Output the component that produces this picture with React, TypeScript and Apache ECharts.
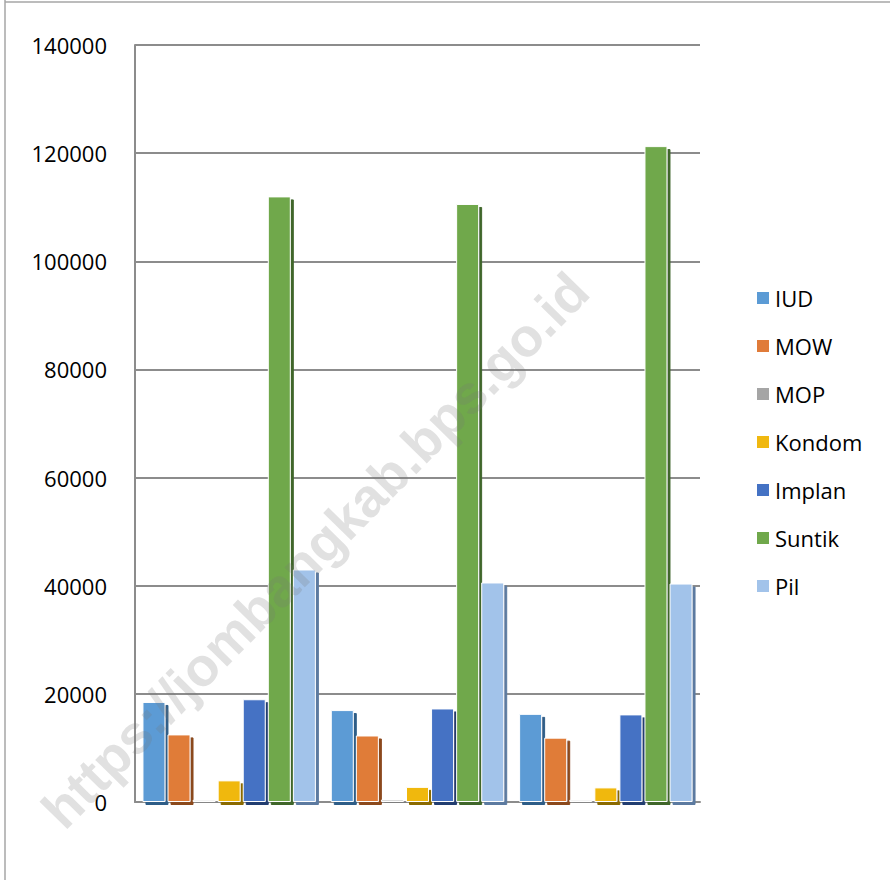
import React, { useEffect, useRef } from "react";
import * as echarts from "echarts";

const categories = ["2016", "2017", "2018"];
const seriesNames = ["IUD", "MOW", "MOP", "Kondom", "Implan", "Suntik", "Pil"];
const iud = [18500, 17000, 16300];
const mow = [12500, 12300, 11900];
const mop = [400, 450, 400];
const kondom = [4000, 2800, 2700];
const implan = [19000, 17300, 16200];
const suntik = [112000, 110600, 121300];
const pil = [43000, 40600, 40400];
const yTicks = { min: 0, max: 140000, interval: 20000 };

const colors = ["#5b9bd5", "#e07b39", "#a5a5a5", "#f0b810", "#4472c4", "#70a84b", "#a2c3ea"];
const shadowColors = ["#2f5d87", "#8b4a1f", "#666666", "#8a6a05", "#223e70", "#3f6629", "#5c7aa0"];

export default function App() {
  const ref = useRef<HTMLDivElement>(null);
  useEffect(() => {
    document.body.style.margin = "0";
    const chart = echarts.init(ref.current!, null, { renderer: "svg" });
    const data = [iud, mow, mop, kondom, implan, suntik, pil];
    chart.setOption({
      animation: false,
      backgroundColor: "#ffffff",
      textStyle: { fontFamily: "Open Sans" },
      grid: { left: 135, right: 190, top: 45, bottom: 78, containLabel: false },
      legend: {
        orient: "vertical",
        left: 750,
        top: 282,
        itemWidth: 14,
        itemHeight: 14,
        itemGap: 26,
        icon: "rect",
        textStyle: { fontSize: 22, color: "#000", lineHeight: 22, fontFamily: "Open Sans" },
        data: seriesNames,
      },
      xAxis: {
        type: "category",
        data: categories,
        axisLine: { show: true, lineStyle: { color: "#8c8c8c", width: 2 } },
        axisTick: { show: false },
        axisLabel: { show: false },
      },
      yAxis: {
        type: "value",
        min: yTicks.min,
        max: yTicks.max,
        interval: yTicks.interval,
        axisLine: { show: true, lineStyle: { color: "#8c8c8c", width: 2 } },
        axisTick: { show: false },
        axisLabel: {
          fontSize: 22,
          color: "#000",
          margin: 28,
          fontFamily: "Open Sans",
          formatter: (v: number) => String(v),
        },
        splitLine: { show: true, lineStyle: { color: "#8c8c8c", width: 2 } },
      },
      graphic: [
        {
          type: "text",
          x: 315,
          y: 550,
          rotation: (45.5 * Math.PI) / 180,
          z: 100,
          style: {
            text: "https://jombangkab.bps.go.id",
            fontSize: 54,
            fontWeight: "bold",
            fontFamily: "Liberation Sans",
            fill: "rgba(120,120,120,0.22)",
            textAlign: "center",
            textVerticalAlign: "middle",
          },
        },
        { type: "line", shape: { x1: 5, y1: 0, x2: 5, y2: 880 }, style: { stroke: "#a6a6a6", lineWidth: 1.5 } },
        { type: "line", shape: { x1: 5, y1: 2, x2: 890, y2: 2 }, style: { stroke: "#a6a6a6", lineWidth: 1.5 } },
      ],
      series: seriesNames.map((name, i) => ({
        name,
        type: "bar",
        data: data[i],
        barWidth: 23,
        barGap: "9%",
        itemStyle: {
          color: colors[i],
          borderColor: "#ffffff",
          borderWidth: 1,
          shadowColor: shadowColors[i],
          shadowOffsetX: 3,
          shadowOffsetY: 3,
          shadowBlur: 0,
        },
      })),
    });
    return () => chart.dispose();
  }, []);
  return <div ref={ref} style={{ width: 890, height: 880 }} />;
}
